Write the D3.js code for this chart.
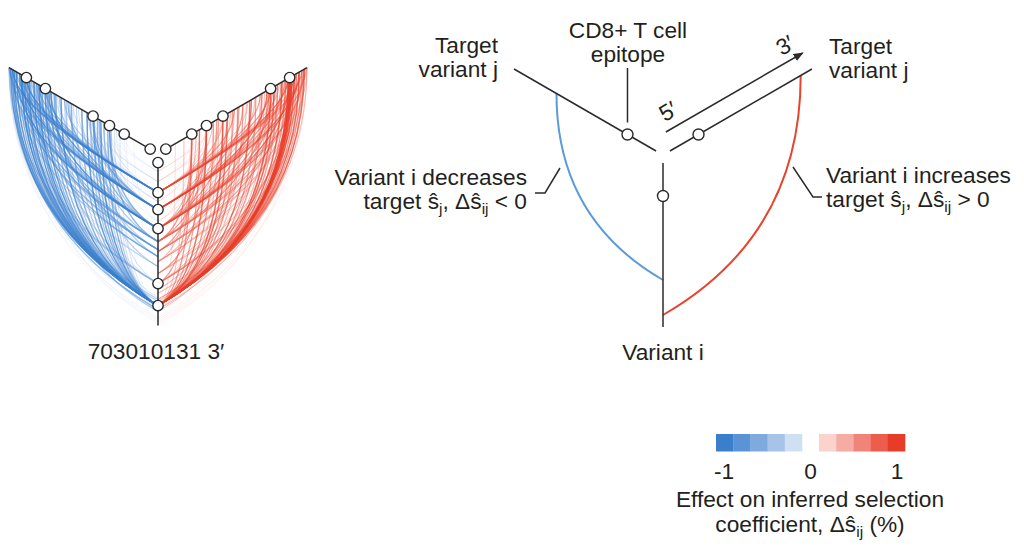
<!DOCTYPE html>
<html><head><meta charset="utf-8">
<script src="https://cdn.jsdelivr.net/npm/d3@7"></script>
<style>
body{margin:0;background:#fff}
text{font-family:"Liberation Sans",Arial,Helvetica,sans-serif;fill:#231f20}
</style>
</head><body>
<svg id="c" width="1024" height="552"></svg>
<script>
// ---------- data ----------
// positions along the sequence (arbitrary site units, 0..164) on each hive axis
const epitopes = [1, 31, 48, 67, 122, 144];
// [variant i position (vertical axis), target j position, effect Δŝij (%)]
const decreaseLinks = [
 [144,164,-0.3],[144,162,-0.9],[144,160,-0.8],[144,158,-1.0],[144,155,-0.9],[144,152,-0.7],[144,149,-1.0],
 [144,146,-0.9],[144,143,-0.8],[144,141,-1.0],[144,138,-0.6],[144,135,-0.9],[144,132,-0.8],[144,129,-1.0],
 [144,126,-0.7],[144,122,-0.9],[144,119,-0.5],[144,115,-0.8],[144,110,-0.7],[144,104,-0.9],[144,98,-0.6],
 [144,92,-0.8],[144,86,-0.5],[144,80,-0.7],[144,74,-0.9],[144,70,-0.6],[144,66,-0.8],[144,62,-0.7],
 [144,58,-0.9],[144,54,-0.5],[144,50,-0.8],[144,46,-0.6],[144,42,-0.4],[144,36,-0.3],[144,28,-0.2],
 [138,150,-0.6],[140,120,-0.5],[148,160,-0.7],[146,100,-0.4],[136,70,-0.3],[150,130,-0.6],
 [31,164,-0.7],[31,160,-0.9],[31,155,-0.6],[31,150,-0.8],[31,144,-1.0],[31,138,-0.5],[31,130,-0.7],
 [31,122,-0.8],[31,112,-0.4],[31,100,-0.6],[31,90,-0.3],
 [48,163,-0.8],[48,158,-0.6],[48,152,-0.9],[48,146,-0.7],[48,140,-0.5],[48,132,-0.8],[48,124,-0.6],
 [48,116,-0.9],[48,106,-0.5],[48,96,-0.7],[48,84,-0.4],[48,72,-0.6],[48,67,-0.8],[48,60,-0.5],
 [67,162,-0.7],[67,156,-0.9],[67,150,-0.5],[67,145,-0.8],[67,136,-0.6],[67,128,-0.7],[67,118,-0.9],
 [67,108,-0.4],[67,94,-0.6],[67,80,-0.5],[67,67,-0.7],[67,55,-0.6],[67,48,-0.8],
 [80,160,-0.6],[80,148,-0.8],[80,134,-0.5],[80,120,-0.7],[80,100,-0.4],[80,66,-0.6],[80,48,-0.7],
 [88,164,-0.4],[88,150,-0.7],[88,126,-0.6],[88,112,-0.8],[88,70,-0.5],
 [95,158,-0.5],[95,140,-0.7],[95,118,-0.4],[95,90,-0.3],[95,60,-0.6],
 [105,162,-0.3],[105,145,-0.4],[105,125,-0.3],[105,67,-0.5],
 [122,164,-0.5],[122,150,-0.6],[122,136,-0.4],[122,110,-0.5],[122,80,-0.3],[122,48,-0.4],
 [10,40,-0.2],[10,60,-0.15],[10,31,-0.2],[20,48,-0.2],[20,67,-0.25],[20,75,-0.15],
 [31,48,-0.3],[31,60,-0.2],[31,67,-0.35],[31,75,-0.2],[40,40,-0.2],[40,67,-0.3],[40,55,-0.15],
 [48,31,-0.2],[48,48,-0.3],[60,20,-0.15],[60,40,-0.2],
 [156,164,-0.1],[160,160,-0.1],[158,150,-0.15],[162,140,-0.1],[150,164,-0.15]
];
const increaseLinks = [
 [144,144,1.0],[144,143,0.95],[144,145,0.9],[144,146,1.0],[144,142,0.85],[144,147,0.9],
 [144,164,0.5],[144,161,0.8],[144,158,0.6],[144,155,0.9],[144,152,0.7],[144,149,0.8],[144,139,0.7],
 [144,135,0.9],[144,130,0.6],[144,126,0.8],[144,122,0.9],[144,118,0.5],[144,112,0.7],[144,105,0.6],
 [144,98,0.8],[144,90,0.5],[144,84,0.7],[144,78,0.6],[144,72,0.8],[144,67,0.9],[144,62,0.5],
 [144,56,0.7],[144,48,0.8],[144,40,0.6],[144,31,0.7],[144,22,0.4],[144,12,0.3],
 [138,150,0.6],[148,160,0.5],[140,110,0.4],[132,130,0.5],[150,120,0.4],[128,90,0.5],
 [31,164,0.5],[31,158,0.7],[31,150,0.6],[31,142,0.8],[31,132,0.5],[31,122,0.7],[31,110,0.6],
 [31,96,0.4],[31,80,0.6],[31,67,0.5],[31,55,0.4],
 [48,162,0.6],[48,155,0.8],[48,146,0.5],[48,138,0.7],[48,128,0.6],[48,118,0.8],[48,104,0.5],
 [48,90,0.6],[48,76,0.4],[48,62,0.5],
 [67,160,0.7],[67,152,0.5],[67,144,0.8],[67,134,0.6],[67,124,0.7],[67,112,0.5],[67,100,0.7],
 [67,86,0.4],[67,72,0.6],[67,60,0.5],[67,48,0.7],[67,36,0.5],
 [80,164,0.4],[80,150,0.6],[80,136,0.5],[80,120,0.7],[80,100,0.4],[80,80,0.5],[80,48,0.6],[80,31,0.7],
 [90,158,0.5],[90,140,0.6],[90,122,0.4],[90,94,0.5],[90,60,0.4],[90,40,0.6],
 [100,162,0.3],[100,144,0.5],[100,126,0.4],[100,67,0.5],[100,31,0.5],
 [112,155,0.4],[112,130,0.3],[112,100,0.4],[112,48,0.6],
 [122,160,0.5],[122,145,0.6],[122,115,0.4],[122,85,0.5],[122,60,0.3],[122,31,0.6],
 [10,40,0.15],[10,55,0.2],[20,48,0.2],[20,67,0.2],[20,31,0.15],[31,48,0.25],[31,67,0.3],[31,75,0.2],
 [40,40,0.2],[40,60,0.15],[60,30,0.2],[60,48,0.25],
 [158,164,0.15],[162,160,0.1],[160,150,0.15],[156,140,0.1],[164,155,0.1]
];
// schematic panel
const schematicEpitope = [33];
const schematicLinks = [[117,115,-0.7],[152,151,0.9]];
// colour bins of the legend, from -1 to 0 and from 0 to 1
const blueShades = ["#3a7fcc","#5a94d6","#7eaade","#a7c4e8","#d0e0f3"];
const redShades  = ["#fbd2cc","#f6aca3","#f18478","#ec5d4c","#e73c27"];
const legendTicks = [-1, 0, 1];

// ---------- drawing ----------
const FS = 22.7, SUB = 15.5;
const svg = d3.select("#c");
const rad = d3.scaleLinear().domain([0, 164]).range([8, 172]);
const A_I = Math.PI / 2, A_DEC = 7 * Math.PI / 6, A_INC = -Math.PI / 6;
const blueScale = d3.scaleQuantize().domain([-1, 0]).range(blueShades);
const redScale = d3.scaleQuantize().domain([0, 1]).range(redShades);
const colorOf = v => v < 0 ? blueScale(Math.max(-0.999, v)) : redScale(Math.min(0.999, v));

function pt(o, a, r) { return [o[0] + Math.cos(a) * r, o[1] + Math.sin(a) * r]; }
function linkPath(o, l) {
  const aj = l[2] < 0 ? A_DEC : A_INC;
  const p0 = pt(o, aj, rad(l[1]));
  const p3 = pt(o, A_I, rad(l[0]));
  const p = d3.path();
  p.moveTo(p0[0], p0[1]);
  p.quadraticCurveTo(p0[0] + p3[0] - o[0], p0[1] + p3[1] - o[1], p3[0], p3[1]);
  return p.toString();
}
function axes(g, o, angles) {
  angles.forEach(a => {
    const s = pt(o, a, rad(0)), e = pt(o, a, rad(164));
    g.append("line").attr("x1", s[0]).attr("y1", s[1]).attr("x2", e[0]).attr("y2", e[1])
      .attr("stroke", "#2b2b2b").attr("stroke-width", 1.5);
  });
}
function nodes(g, o, angles, pos, r) {
  angles.forEach(a => pos.forEach(p => {
    const c = pt(o, a, rad(p));
    g.append("circle").attr("cx", c[0]).attr("cy", c[1]).attr("r", r)
      .attr("fill", "#fff").attr("stroke", "#2b2b2b").attr("stroke-width", 1.4);
  }));
}

// left hive plot
const O1 = [158, 153.6];
const g1 = svg.append("g");
const all = decreaseLinks.concat(increaseLinks).slice().sort((a, b) => Math.abs(a[2]) - Math.abs(b[2]));
g1.selectAll("path.l").data(all).join("path").attr("class", "l")
  .attr("d", d => linkPath(O1, d)).attr("fill", "none")
  .attr("stroke", d => colorOf(d[2]))
  .attr("stroke-width", d => 0.6 + 1.0 * Math.abs(d[2]))
  .attr("stroke-opacity", d => 0.35 + 0.45 * Math.abs(d[2]));
axes(g1, O1, [A_I, A_DEC, A_INC]);
nodes(g1, O1, [A_I, A_DEC, A_INC], epitopes, 5.2);
svg.append("text").attr("x", 156).attr("y", 358.5).attr("text-anchor", "middle")
  .attr("font-size", FS).text("703010131 3\u2032");

// schematic
const O2 = [663, 155];
const g2 = svg.append("g");
g2.selectAll("path").data(schematicLinks).join("path")
  .attr("d", d => linkPath(O2, d)).attr("fill", "none")
  .attr("stroke", d => d[2] < 0 ? "#5b9bd8" : "#e8432d").attr("stroke-width", 2);
axes(g2, O2, [A_I, A_DEC, A_INC]);
nodes(g2, O2, [A_I, A_DEC, A_INC], schematicEpitope, 5.5);
// 5'→3' arrow parallel to the right axis
(function () {
  const off = [Math.cos(A_INC - Math.PI / 2) * 18.5, Math.sin(A_INC - Math.PI / 2) * 18.5];
  const s = pt(O2, A_INC, 14), e = pt(O2, A_INC, 172);
  svg.append("defs").append("marker").attr("id", "ah").attr("viewBox", "0 0 10 10")
    .attr("refX", 9).attr("refY", 5).attr("markerWidth", 10).attr("markerHeight", 10)
    .attr("markerUnits", "userSpaceOnUse").attr("orient", "auto")
    .append("path").attr("d", "M0,1L10,5L0,9Z").attr("fill", "#2b2b2b");
  g2.append("line").attr("x1", s[0] + off[0]).attr("y1", s[1] + off[1])
    .attr("x2", e[0] + off[0]).attr("y2", e[1] + off[1])
    .attr("stroke", "#2b2b2b").attr("stroke-width", 1.5).attr("marker-end", "url(#ah)");
})();
// epitope leader
const ep = pt(O2, A_DEC, rad(schematicEpitope[0]));
g2.append("line").attr("x1", ep[0]).attr("y1", ep[1] - 12).attr("x2", ep[0]).attr("y2", 68)
  .attr("stroke", "#2b2b2b").attr("stroke-width", 1.5);
// leaders to annotations
g2.append("polyline").attr("points", "560,168 545,193 535,193").attr("fill", "none")
  .attr("stroke", "#2b2b2b").attr("stroke-width", 1.5);
g2.append("polyline").attr("points", "793,167 813,197 822,197").attr("fill", "none")
  .attr("stroke", "#2b2b2b").attr("stroke-width", 1.5);

function subText(x, y, anchor, parts) {
  const t = svg.append("text").attr("x", x).attr("y", y).attr("text-anchor", anchor).attr("font-size", FS);
  let shifted = false;
  parts.forEach(p => {
    const s = t.append("tspan");
    if (typeof p === "string") { s.text(p); if (shifted) { s.attr("dy", -5); shifted = false; } }
    else { s.text(p.sub).attr("font-size", SUB).attr("dy", shifted ? 0 : 5); shifted = true; }
  });
  return t;
}
subText(498, 52.6, "end", ["Target"]);
subText(498, 76.6, "end", ["variant j"]);
subText(628, 37.8, "middle", ["CD8+ T cell"]);
subText(628, 62, "middle", ["epitope"]);
subText(829, 53.6, "start", ["Target"]);
subText(829, 77.6, "start", ["variant j"]);
subText(527, 185.3, "end", ["Variant i decreases"]);
subText(527, 209.3, "end", ["target \u015D", {sub: "j"}, ", \u0394\u015D", {sub: "ij"}, " < 0"]);
subText(826, 182.5, "start", ["Variant i increases"]);
subText(826, 206.5, "start", ["target \u015D", {sub: "j"}, ", \u0394\u015D", {sub: "ij"}, " > 0"]);
subText(663, 360.3, "middle", ["Variant i"]);
svg.append("text").attr("font-size", FS).attr("text-anchor", "middle")
  .attr("transform", "translate(672,118) rotate(-30)").text("5\u2032");
svg.append("text").attr("font-size", FS).attr("text-anchor", "middle")
  .attr("transform", "translate(789,52) rotate(-30)").text("3\u2032");

// legend
const lg = svg.append("g");
const bw = 17.2;
lg.selectAll("rect.b").data(blueShades).join("rect").attr("class", "b")
  .attr("x", (d, i) => 716 + i * bw).attr("y", 434).attr("width", bw + 0.3).attr("height", 17.5).attr("fill", d => d);
lg.selectAll("rect.r").data(redShades).join("rect").attr("class", "r")
  .attr("x", (d, i) => 819 + i * bw).attr("y", 434).attr("width", bw + 0.3).attr("height", 17.5).attr("fill", d => d);
const lx = d3.scaleLinear().domain([-1, 1]).range([724, 897]);
lg.selectAll("text.t").data(legendTicks).join("text").attr("class", "t")
  .attr("x", d => lx(d)).attr("y", 478.5).attr("text-anchor", "middle").attr("font-size", FS)
  .text(d => d === -1 ? "-1" : String(d));
subText(810, 507, "middle", ["Effect on inferred selection"]);
subText(810, 532, "middle", ["coefficient, \u0394\u015D", {sub: "ij"}, " (%)"]);
</script>
</body></html>
